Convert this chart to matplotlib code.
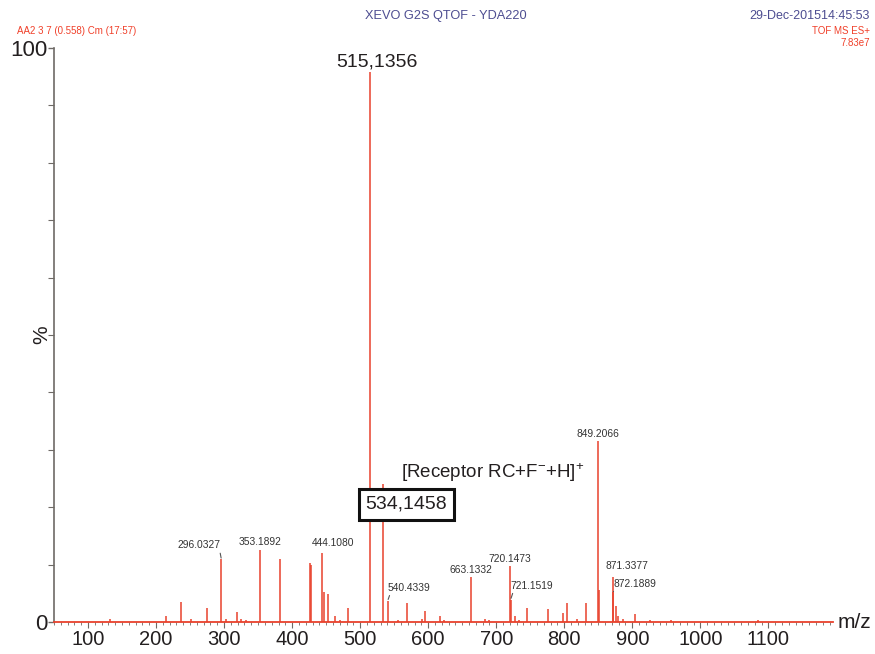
import matplotlib
matplotlib.use("Agg")
import matplotlib.pyplot as plt
from matplotlib.ticker import MultipleLocator, FixedLocator

plt.rcParams['font.family'] = ['Liberation Sans', 'DejaVu Sans']
plt.rcParams['mathtext.fontset'] = 'custom'
plt.rcParams['mathtext.rm'] = 'Liberation Sans'
plt.rcParams['mathtext.it'] = 'Liberation Sans:italic'

# ---------------- data ----------------
mz = [132.0, 214.0, 236.6, 250.8, 274.7, 296.0327, 303.0, 318.8, 324.7, 332.0,
      353.1892, 382.4, 426.0, 427.5, 444.1080, 447.5, 453.0, 463.0, 470.0, 482.0,
      515.1356, 534.1458, 540.4339, 556.0, 568.5, 591.5, 596.0, 618.0, 623.0,
      663.1332, 684.0, 689.0, 720.1473, 721.1519, 727.0, 733.0, 745.6, 776.0,
      798.0, 803.5, 819.0, 832.0, 849.2066, 851.0, 871.3377, 872.1889, 876.0,
      878.6, 886.0, 904.5, 926.0, 957.0, 1085.0]
intensity = [0.6, 1.1, 3.4, 0.5, 2.5, 10.9, 0.6, 1.7, 0.6, 0.4,
             12.6, 11.0, 10.2, 10.0, 12.1, 5.3, 4.9, 1.0, 0.4, 2.4,
             95.8, 24.0, 3.7, 0.4, 3.3, 0.5, 1.9, 1.0, 0.4,
             7.8, 0.5, 0.4, 9.7, 3.9, 1.1, 0.4, 2.4, 2.3,
             1.6, 3.3, 0.5, 3.3, 31.5, 5.6, 7.9, 5.3, 2.8,
             1.1, 0.5, 1.4, 0.3, 0.3, 0.3]

small_labels = ["296.0327", "353.1892", "444.1080", "540.4339", "663.1332",
                "720.1473", "721.1519", "849.2066", "871.3377", "872.1889"]
main_label = "515,1356"
box_label = "534,1458"
ion_label = r"[Receptor RC+F$^{-}$+H]$^{+}$"
x_ticks = [100, 200, 300, 400, 500, 600, 700, 800, 900, 1000, 1100]
y_ticks = [0, 100]

# ---------------- figure ----------------
W, H = 875, 654
fig = plt.figure(figsize=(W / 100, H / 100), dpi=100)
ax = fig.add_axes([54 / W, 1 - 622 / H, (833 - 54) / W, (622 - 48) / H])

red = "#e8412c"
ax.vlines(mz, 0, intensity, color=red, lw=1.1)
ax.set_xlim(50, 1195)
ax.set_ylim(0, 100)

for s in ("top", "right"):
    ax.spines[s].set_visible(False)
ax.spines["left"].set_color("#6e6a66")
ax.spines["left"].set_linewidth(1.2)
ax.spines["bottom"].set_color(red)
ax.spines["bottom"].set_linewidth(1.3)

ax.xaxis.set_major_locator(FixedLocator(x_ticks))
ax.xaxis.set_minor_locator(MultipleLocator(10))
ax.tick_params(axis="x", which="major", length=4, width=0.8, color="#6e6a66",
               labelsize=14.5, pad=2, labelcolor="#231f20")
ax.tick_params(axis="x", which="minor", length=2.5, width=0.6, color="#6e6a66")
ax.set_xticklabels([str(v) for v in x_ticks])

ax.yaxis.set_major_locator(FixedLocator(y_ticks))
ax.yaxis.set_minor_locator(MultipleLocator(10))
ax.tick_params(axis="y", which="major", length=4, width=1.0, color="#6e6a66",
               labelsize=16, pad=1, labelcolor="#231f20")
ax.tick_params(axis="y", which="minor", length=4, width=0.8, color="#6e6a66")
ax.set_yticklabels([str(v) for v in y_ticks])

ax.set_ylabel("%", fontsize=15, color="#231f20")
ax.yaxis.set_label_coords(-0.004, 0.5)

fig.text(838 / W, 1 - 622 / H, "m/z", fontsize=15, color="#231f20",
         ha="left", va="center")

# ---------------- annotations ----------------
peak = dict(zip(mz, intensity))
lab_col = "#333333"
lab_fs = 7.4
# label: (offset in pixels from the peak top, leader relpos or None)
layout = {
    "296.0327": ((-22, 14), (0.97, 0.05)),
    "353.1892": ((0, 8), None),
    "444.1080": ((11, 10), None),
    "540.4339": ((21, 13), (0.08, 0.05)),
    "663.1332": ((0, 7), None),
    "720.1473": ((0, 7), None),
    "721.1519": ((21, 14), (0.08, 0.05)),
    "849.2066": ((0, 7), None),
    "871.3377": ((14, 11), None),
    "872.1889": ((22, 8), (0.05, 0.1)),
}
for lab in small_labels:
    m = float(lab)
    off, rel = layout[lab]
    kw = {}
    if rel is not None:
        kw["arrowprops"] = dict(arrowstyle="-", color="#555555", lw=0.8,
                                shrinkA=0, shrinkB=1, relpos=rel)
    ax.annotate(lab, xy=(m, peak[m]), xytext=off, textcoords="offset pixels",
                ha="center", va="center", fontsize=lab_fs, color=lab_col, **kw)

ax.annotate(main_label, xy=(515.1356, peak[515.1356]), xytext=(6, 10),
            textcoords="offset pixels", ha="center", va="center",
            fontsize=14, color="#231f20")

ax.annotate(box_label, xy=(534.1458, peak[534.1458]), xytext=(23, -20),
            textcoords="offset pixels", ha="center", va="center",
            fontsize=14, color="#231f20",
            bbox=dict(boxstyle="square,pad=0.36", fc="white", ec="#111111", lw=2.2))

ax.annotate(ion_label, xy=(534.1458, peak[534.1458]), xytext=(18, 12),
            textcoords="offset pixels", ha="left", va="center",
            fontsize=13.5, color="#231f20")

# ---------------- header ----------------
blue = "#4d4d91"
hred = "#f0402a"
fig.text(446 / W, 1 - 16 / H, "XEVO G2S QTOF - YDA220", fontsize=9.2,
         color=blue, ha="center", va="center")
fig.text(870 / W, 1 - 16 / H, "29-Dec-201514:45:53", fontsize=9,
         color=blue, ha="right", va="center")
fig.text(17 / W, 1 - 31 / H, "AA2 3 7 (0.558) Cm (17:57)", fontsize=7,
         color=hred, ha="left", va="center")
fig.text(870 / W, 1 - 31 / H, "TOF MS ES+", fontsize=7,
         color=hred, ha="right", va="center")
fig.text(870 / W, 1 - 43 / H, "7.83e7", fontsize=7,
         color=hred, ha="right", va="center")

fig.savefig("out.png", dpi=100)
